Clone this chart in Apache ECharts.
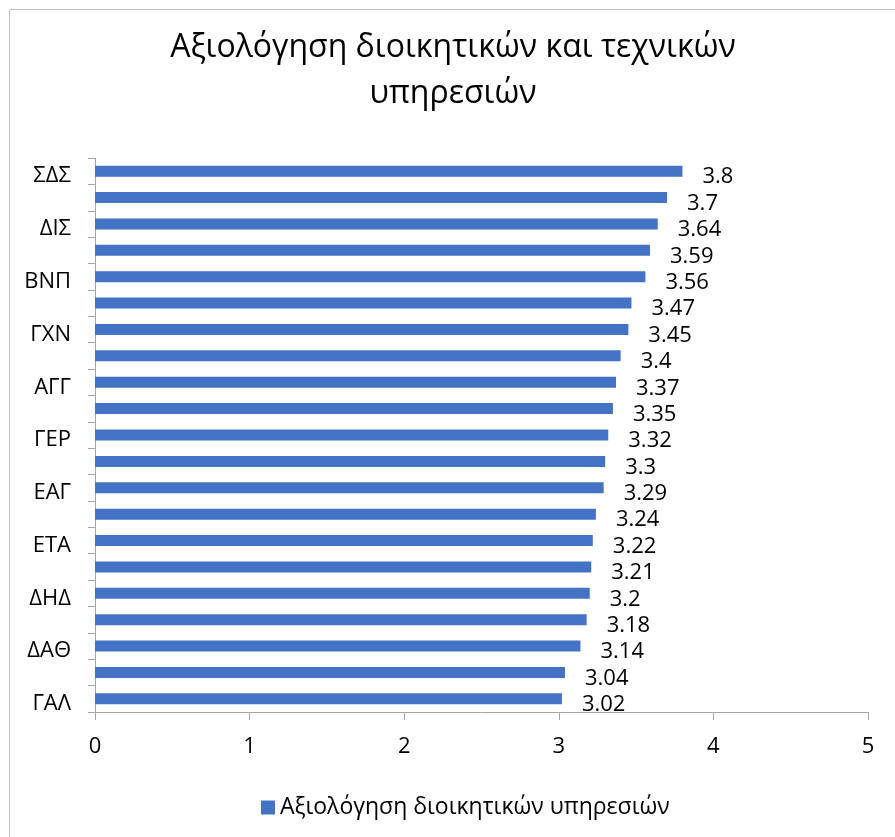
<!DOCTYPE html>
<html>
<head>
<meta charset="utf-8">
<script src="https://cdn.jsdelivr.net/npm/echarts@6/dist/echarts.min.js"></script>
<style>html,body{margin:0;padding:0;background:#fff}#c{width:895px;height:837px}</style>
</head>
<body>
<div id="c"></div>
<script>
const titleText = 'Αξιολόγηση διοικητικών και τεχνικών\nυπηρεσιών';
const seriesName = 'Αξιολόγηση διοικητικών υπηρεσιών';
// bottom to top
const categories = ['ΓΑΛ','','ΔΑΘ','','ΔΗΔ','','ΕΤΑ','','ΕΑΓ','','ΓΕΡ','','ΑΓΓ','','ΓΧΝ','','ΒΝΠ','','ΔΙΣ','','ΣΔΣ'];
const values = [3.02,3.04,3.14,3.18,3.2,3.21,3.22,3.24,3.29,3.3,3.32,3.35,3.37,3.4,3.45,3.47,3.56,3.59,3.64,3.7,3.8];
const xTicks = [0,1,2,3,4,5];

const FONT = '"Open Sans", "Noto Sans", sans-serif';
const chart = echarts.init(document.getElementById('c'), null, {renderer:'canvas'});
chart.setOption({
  animation:false,
  backgroundColor:'#fff',
  graphic:[{type:'rect', shape:{x:9.5,y:9.5,width:1000,height:1000}, style:{fill:null, stroke:'#bfbfbf', lineWidth:1}, silent:true}],
  title:{text:titleText, left:448, textAlign:'center', top:20, textStyle:{fontFamily:FONT, fontSize:32, fontWeight:'normal', color:'#000', lineHeight:46}},
  legend:{top:791, left:256, itemWidth:14, itemHeight:14, icon:'rect', itemGap:8,
    textStyle:{fontFamily:FONT, fontSize:23, color:'#000'}, data:[seriesName]},
  grid:{left:95, right:27, top:158, bottom:125, containLabel:false},
  xAxis:{type:'value', min:xTicks[0], max:xTicks[xTicks.length-1], interval:1,
    axisLine:{show:true, lineStyle:{color:'#a6a6a6'}},
    axisTick:{show:true, length:8, lineStyle:{color:'#a6a6a6'}},
    splitLine:{show:false},
    axisLabel:{fontFamily:FONT, fontSize:22, color:'#000', margin:24}},
  yAxis:{type:'category', data:categories,
    axisLine:{show:true, lineStyle:{color:'#a6a6a6'}},
    axisTick:{show:true, length:7, interval:0, lineStyle:{color:'#a6a6a6'}},
    axisLabel:{interval:0, fontFamily:FONT, fontSize:22, color:'#000', margin:24, verticalAlign:'top', lineHeight:10}},
  series:[{type:'bar', name:seriesName, data:values, barWidth:11, itemStyle:{color:'#4472c4'},
    label:{show:true, position:'right', distance:20, offset:[0,6], fontFamily:FONT, fontSize:22, color:'#000'}}]
});
</script>
</body>
</html>
